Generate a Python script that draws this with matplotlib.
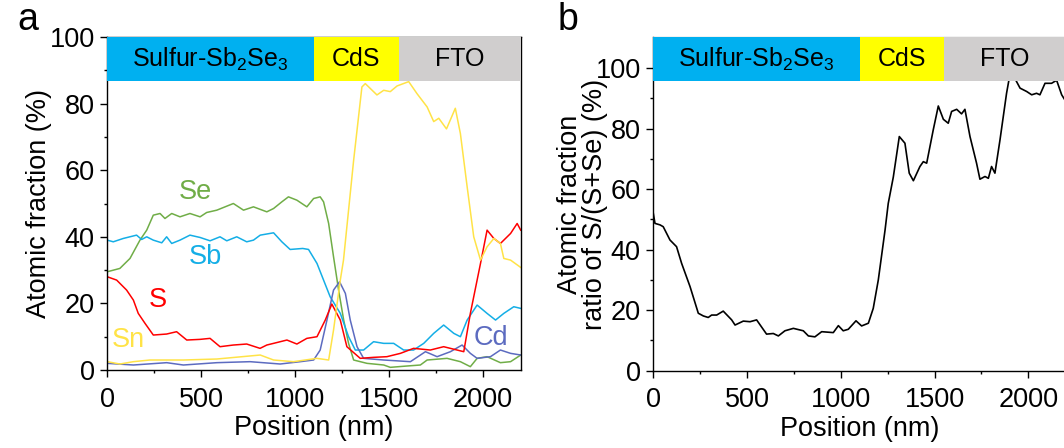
import matplotlib
matplotlib.use("Agg")
import matplotlib.pyplot as plt
from matplotlib.patches import Rectangle

plt.rcParams['font.family'] = ['Liberation Sans', 'DejaVu Sans']

# panel a: element profiles (position nm, atomic fraction %)
se_x = [0, 67, 121, 174, 210, 245, 281, 307, 343, 387, 440, 494, 529, 583, 671, 725, 778, 849, 885,
        929, 964, 1009, 1062, 1098, 1133, 1151, 1178, 1204, 1231, 1258, 1284, 1311, 1382, 1471, 1506,
        1595, 1666, 1702, 1808, 1879, 1932, 1968, 2021, 2092, 2146, 2200]
se_y = [29.5, 30.5, 33.5, 39, 42, 46.5, 47, 45.5, 47, 46, 47, 46, 47.3, 48, 50, 48, 49, 47.5, 48.5,
        50.5, 52, 51, 49, 51.5, 52, 50.5, 44, 34, 24, 15, 8, 3, 2, 1.5, 0.8,
        1.2, 1.5, 3, 3.5, 2.5, 1, 3.5, 4, 2.2, 2.5, 4.5]

sb_x = [0, 32, 85, 156, 183, 210, 245, 290, 316, 343, 387, 440, 494, 547, 600, 636, 689, 742, 778,
        814, 885, 929, 973, 1040, 1071, 1116, 1151, 1186, 1240, 1284, 1320, 1364, 1417, 1471, 1524,
        1577, 1630, 1684, 1737, 1790, 1844, 1879, 1915, 1968, 2021, 2066, 2110, 2163, 2200]
sb_y = [39, 38.5, 39.5, 40.5, 39.2, 40, 39, 38.2, 40, 38, 39, 40.5, 39.8, 38.8, 40, 38.8, 40, 38.5, 39,
        40.5, 41.2, 38.5, 36.2, 36.5, 36.2, 32, 27, 22, 17, 10, 6, 6, 8.5, 8, 8,
        6, 6, 8, 11, 13.5, 11, 10, 15, 19.5, 17, 15, 17, 19, 18.5]

s_x = [0, 50, 103, 139, 165, 201, 245, 316, 369, 423, 494, 547, 600, 671, 742, 813, 849, 885, 956,
       1009, 1062, 1116, 1160, 1195, 1240, 1275, 1346, 1417, 1488, 1560, 1630, 1719, 1790, 1897,
       1932, 1986, 2021, 2057, 2092, 2146, 2181, 2200]
s_y = [28, 27, 24, 21, 17, 14, 10.5, 10.8, 11.5, 9, 9.2, 9.5, 7, 7.5, 7.8, 6.5, 7.5, 8, 9,
       7.8, 9.5, 10, 15, 19.8, 15, 7, 3.5, 3.8, 4, 5, 6.5, 6, 7, 5.5,
       17, 32, 42, 39.5, 38, 41, 44, 42]

sn_x = [0, 67, 139, 227, 405, 583, 814, 885, 991, 1115, 1178, 1204, 1240, 1257, 1311, 1355, 1373,
        1435, 1471, 1506, 1542, 1604, 1648, 1702, 1737, 1764, 1805, 1852, 1879, 1915, 1950, 1986,
        2021, 2057, 2092, 2110, 2146, 2200]
sn_y = [2.5, 1.8, 2.5, 3, 3, 3.3, 4.5, 3, 2.5, 3.5, 3, 12, 27, 33, 63, 85, 86,
        82.6, 84, 83.6, 85.3, 86.6, 83, 79, 74.6, 75.6, 72.4, 78.6, 71, 55, 40, 33,
        37, 39.5, 38, 33.5, 33, 30.8]

cd_x = [0, 139, 316, 405, 583, 760, 920, 1027, 1098, 1133, 1169, 1204, 1236, 1267, 1293, 1329,
        1364, 1471, 1613, 1693, 1755, 1826, 1888, 1932, 1968, 2039, 2092, 2146, 2200]
cd_y = [2, 1.5, 2.2, 1.5, 2.2, 2.5, 1.8, 2.5, 3, 6, 15, 24, 26.5, 23, 15, 7,
        3.5, 3, 2.5, 5.5, 4, 5.5, 7.5, 5, 3.5, 4, 6, 5, 4.5]

# panel b: S/(S+Se) ratio (%)
ratio_x = [0, 9, 36, 53, 89, 124, 151, 196, 240, 267, 293, 311, 338, 373, 418, 436, 480, 516, 551,
           604, 640, 667, 702, 747, 800, 827, 862, 898, 960, 987, 1013, 1040, 1081, 1111, 1147,
           1173, 1200, 1236, 1253, 1280, 1312, 1342, 1365, 1387, 1422, 1440, 1458, 1493, 1520,
           1547, 1573, 1591, 1618, 1644, 1662, 1689, 1724, 1742, 1769, 1787, 1804, 1822, 1849,
           1884, 1905, 1925, 1956, 1991, 2018, 2044, 2062, 2089, 2124, 2151, 2178, 2200]
ratio_y = [52, 48.7, 48.2, 47.6, 43.2, 41, 35.5, 27.8, 19, 18.1, 17.6, 18.4, 18.4, 19.7, 16.8, 15.1,
           16.4, 16.2, 16.8, 12.1, 12.3, 11.5, 13.2, 14, 13.2, 11.5, 11.2, 12.9, 12.6, 14.9, 13.2,
           13.7, 16.5, 14.8, 15.7, 20.6, 30, 46.5, 55.3, 64, 77.4, 75.2, 65.3, 62.8, 67.5, 69.1,
           68.6, 79.6, 87.5, 83.1, 81.8, 85.7, 86.4, 84.9, 86.4, 77.4, 68.6, 63.3, 64.2, 63.6,
           67.5, 65.3, 76.3, 91.7, 99, 97, 93.4, 92.3, 91.2, 91.7, 91.2, 95, 95, 96, 91.2, 89]

layers = ['Sulfur-Sb$_\\mathregular{2}$Se$_\\mathregular{3}$', 'CdS', 'FTO']
layer_edges = [0, 1100, 1550, 2200]
layer_colors = ['#00B0F0', '#FFFF00', '#D0CECE']

fig = plt.figure(figsize=(10.64, 4.48), dpi=100)
ax1 = fig.add_axes([0.1008, 0.1741, 0.3886, 0.7433])
ax2 = fig.add_axes([0.614, 0.1725, 0.3877, 0.7442])


def style(ax, ymax, band_lo):
    ax.set_xlim(0, 2200)
    ax.set_ylim(0, ymax)
    ax.set_xticks([0, 500, 1000, 1500, 2000])
    ax.set_xticks([250, 750, 1250, 1750], minor=True)
    ax.tick_params(which='major', direction='out', length=5, width=1, labelsize=19.5, pad=4)
    ax.tick_params(axis='x', which='major', pad=7)
    ax.tick_params(which='minor', direction='out', length=2.5, width=1)
    for sp in ax.spines.values():
        sp.set_linewidth(1)
    ax.set_xlabel('Position (nm)', fontsize=19.5, labelpad=2)
    for i in range(3):
        ax.add_patch(Rectangle((layer_edges[i], band_lo), layer_edges[i + 1] - layer_edges[i],
                               ymax - band_lo, facecolor=layer_colors[i], edgecolor='none',
                               zorder=5, clip_on=False))
        ax.text((layer_edges[i] + layer_edges[i + 1]) / 2, (band_lo + ymax) / 2, layers[i],
                ha='center', va='center', fontsize=18, zorder=6)


style(ax1, 100, 86.8)
ax1.set_yticks([0, 20, 40, 60, 80, 100])
ax1.set_yticks([10, 30, 50, 70, 90], minor=True)
ax1.plot(se_x, se_y, color='#70AD47', lw=1.1)
ax1.plot(sb_x, sb_y, color='#14AEE6', lw=1.1)
ax1.plot(cd_x, cd_y, color='#5C6BC0', lw=1.1)
ax1.plot(s_x, s_y, color='#FF0000', lw=1.1)
ax1.plot(sn_x, sn_y, color='#FFE347', lw=1.1)
ax1.text(467, 53.5, 'Se', color='#70AD47', fontsize=19.5, ha='center', va='center')
ax1.text(521, 34, 'Sb', color='#14AEE6', fontsize=19.5, ha='center', va='center')
ax1.text(270, 21, 'S', color='#FF0000', fontsize=19.5, ha='center', va='center')
ax1.text(111, 9, 'Sn', color='#FFE347', fontsize=19.5, ha='center', va='center')
ax1.text(2040, 9.5, 'Cd', color='#5C6BC0', fontsize=19.5, ha='center', va='center')
ax1.set_ylabel('Atomic fraction (%)', fontsize=19.5, labelpad=-2)

style(ax2, 110.2, 95.9)
ax2.set_yticks([0, 20, 40, 60, 80, 100])
ax2.set_yticks([10, 30, 50, 70, 90], minor=True)
ax2.spines['top'].set_color('#BBBBBB')
ax2.plot(ratio_x, ratio_y, color='black', lw=1.2)
ax2.set_ylabel('Atomic fraction\nratio of S/(S+Se) (%)', fontsize=19.5, labelpad=-9, linespacing=0.95)

fig.text(0.026, 0.955, 'a', fontsize=27, ha='center', va='center')
fig.text(0.534, 0.955, 'b', fontsize=27, ha='center', va='center')

fig.savefig('out.png', dpi=100)
